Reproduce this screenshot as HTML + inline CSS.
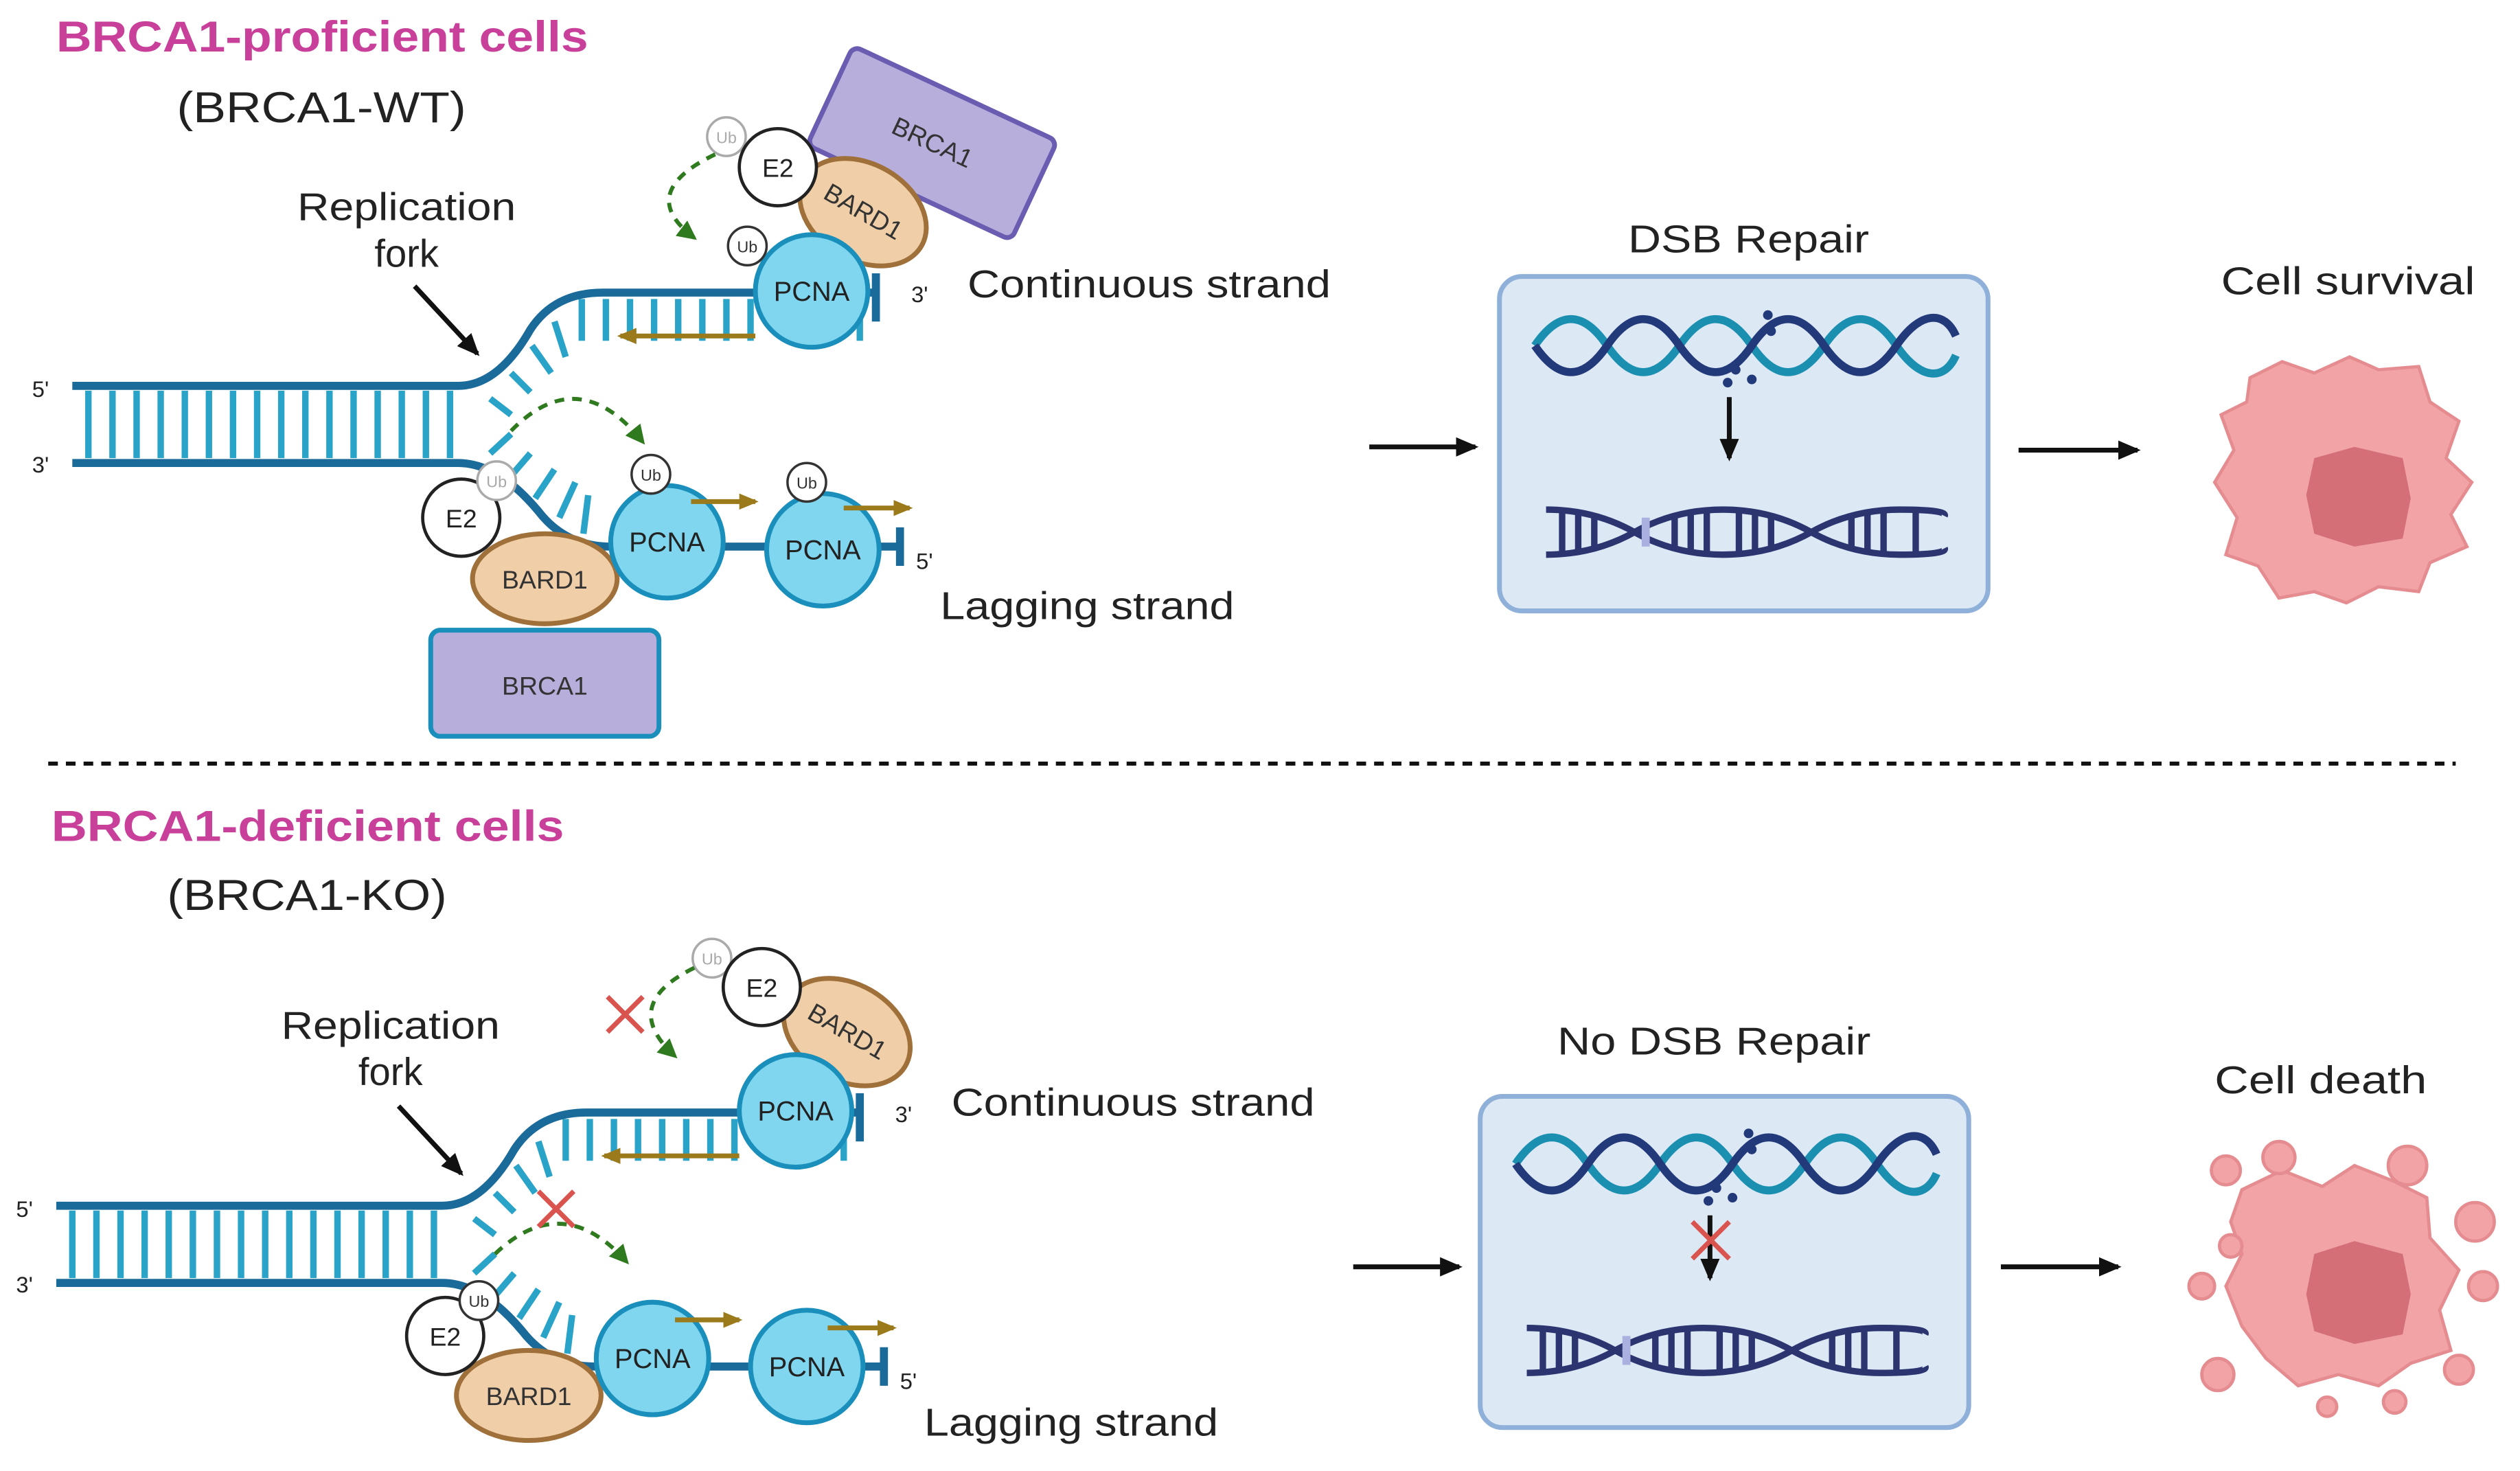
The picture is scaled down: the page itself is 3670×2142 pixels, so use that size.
<!DOCTYPE html>
<html><head><meta charset="utf-8"><style>
html,body{margin:0;padding:0;background:#fff}
svg{display:block}
text{font-family:"Liberation Sans",sans-serif}
</style></head><body>
<svg width="3670" height="2142" viewBox="0 0 1568 915" preserveAspectRatio="none" xmlns="http://www.w3.org/2000/svg">
<defs>
<marker id="ahb" markerWidth="14" markerHeight="12" refX="12" refY="6" orient="auto" markerUnits="userSpaceOnUse"><path d="M0,0 L14,6 L0,12 z" fill="#111"/></marker>
<marker id="ahg" markerWidth="12" markerHeight="12" refX="10" refY="6" orient="auto" markerUnits="userSpaceOnUse"><path d="M0,0 L12,6 L0,12 z" fill="#2f7a1f"/></marker>
<marker id="aho" markerWidth="12" markerHeight="10" refX="10" refY="5" orient="auto" markerUnits="userSpaceOnUse"><path d="M0,0 L12,5 L0,10 z" fill="#9a7a1a"/></marker>
<g id="fork">
 <g stroke="#2aa3c9" stroke-width="4">
  <path d="M55,243V285M70,243V285M85,243V285M100,243V285M115,243V285M130,243V285M145,243V285M160,243V285M175,243V285M190,243V285M205,243V285M220,243V285M235,243V285M250,243V285M265,243V285M280,243V285"/>
  <path d="M305,248L318,258M318,232L330,244M331,215L343,232M345,200L352,222M362,186V212M377,186V212M392,186V212M407,186V212M422,186V212M437,186V212M452,186V212M467,186V212M535,186V212"/>
  <path d="M305,282L318,270M318,296L330,282M333,310L345,292M348,322L358,300M363,332L366,308"/>
 </g>
 <g stroke="#1a6a9a" stroke-width="5" fill="none">
  <path d="M45,240H285Q310,240 330,205Q345,182 375,182H545"/>
  <path d="M45,288H285Q310,288 335,318Q352,340 380,340H560"/>
  <path d="M545,170V200M560,328V352"/>
 </g>
</g>
<g id="pcna"><circle r="35" fill="#7fd6ee" stroke="#1a8fbc" stroke-width="3"/><text y="6" text-anchor="middle" font-size="17" fill="#222">PCNA</text></g>
<g id="ub"><circle r="12" fill="#fff" stroke="#333" stroke-width="1.5"/><text y="4" text-anchor="middle" font-size="10" fill="#333">Ub</text></g>
<g id="ubf"><circle r="12" fill="#fff" stroke="#aaa" stroke-width="1.5"/><text y="4" text-anchor="middle" font-size="10" fill="#aaa">Ub</text></g>
<g id="e2"><circle r="24" fill="#fff" stroke="#222" stroke-width="2"/><text y="6" text-anchor="middle" font-size="16" fill="#222">E2</text></g>
<g id="helix" fill="none" stroke-width="5">
 <path d="M0,0 C15,-22 30,-22 45,0 S75,22 90,0 S120,-22 135,0 S165,22 180,0 S210,-22 225,0 S255,22 262,6" stroke="#1a8fb0"/>
 <path d="M0,0 C15,22 30,22 45,0 S75,-22 90,0 S120,22 135,0 S165,-22 180,0 S210,22 225,0 S255,-22 262,-6" stroke="#233a7a"/>
</g>
<g id="helix2" fill="none" stroke="#2c3570" stroke-width="4">
 <path d="M0,-14 Q30,-14 55,0 T110,14 T165,0 T220,-14 T248,-10"/>
 <path d="M0,14 Q30,14 55,0 T110,-14 T165,0 T220,14 T248,10"/>
 <path d="M10,-13V13M20,-12V12M30,-10V10M80,-10V10M90,-12V12M100,-13V13M120,-13V13M130,-12V12M140,-10V10M190,-10V10M200,-12V12M210,-13V13M230,-13V13"/>
 <path d="M62,-9V9" stroke="#aab0e0" stroke-width="5"/>
</g>
</defs>

<!-- TOP PANEL -->
<text x="35" y="32" font-size="27" font-weight="bold" fill="#c8409a" textLength="331" lengthAdjust="spacingAndGlyphs">BRCA1-proficient cells</text>
<text x="110" y="76" font-size="27" fill="#222" textLength="180" lengthAdjust="spacingAndGlyphs">(BRCA1-WT)</text>
<text x="185" y="137" font-size="24" fill="#222" textLength="136" lengthAdjust="spacingAndGlyphs">Replication</text>
<text x="253" y="166" font-size="24" text-anchor="middle" fill="#222">fork</text>
<line x1="258" y1="178" x2="297" y2="220" stroke="#111" stroke-width="3" marker-end="url(#ahb)"/>
<use href="#fork"/>
<text x="20" y="247" font-size="14" fill="#222">5'</text>
<text x="20" y="294" font-size="14" fill="#222">3'</text>
<text x="567" y="188" font-size="14" fill="#222">3'</text>
<text x="570" y="354" font-size="14" fill="#222">5'</text>
<rect x="510" y="55" width="140" height="68" rx="5" fill="#b8aedb" stroke="#6a5cb0" stroke-width="3" transform="rotate(25 580 89)"/>
<text x="580" y="94" font-size="16" text-anchor="middle" fill="#333" transform="rotate(25 580 89)">BRCA1</text>
<ellipse cx="537" cy="132" rx="42" ry="30" fill="#f0cfa8" stroke="#a0703a" stroke-width="3" transform="rotate(30 537 132)"/>
<text x="537" y="137" font-size="16" text-anchor="middle" fill="#333" transform="rotate(30 537 132)">BARD1</text>
<use href="#ubf" x="452" y="85"/>
<use href="#e2" x="484" y="104"/>
<use href="#pcna" x="505" y="181"/>
<use href="#ub" x="465" y="153"/>
<path d="M445,96 Q395,120 432,148" fill="none" stroke="#2f7a1f" stroke-width="2.5" stroke-dasharray="6,5" marker-end="url(#ahg)"/>
<line x1="470" y1="209" x2="386" y2="209" stroke="#9a7a1a" stroke-width="3" marker-end="url(#aho)"/>
<text x="602" y="185" font-size="24" fill="#222" textLength="226" lengthAdjust="spacingAndGlyphs">Continuous strand</text>
<rect x="268" y="392" width="142" height="66" rx="6" fill="#b8aedb" stroke="#1a8fbc" stroke-width="3"/>
<text x="339" y="432" font-size="16" text-anchor="middle" fill="#333">BRCA1</text>
<ellipse cx="339" cy="360" rx="45" ry="28" fill="#f0cfa8" stroke="#a0703a" stroke-width="3"/>
<text x="339" y="366" font-size="16" text-anchor="middle" fill="#333">BARD1</text>
<use href="#e2" x="287" y="322"/>
<use href="#ubf" x="309" y="299"/>
<use href="#pcna" x="415" y="337"/>
<use href="#pcna" x="512" y="342"/>
<use href="#ub" x="405" y="295"/>
<use href="#ub" x="502" y="300"/>
<line x1="430" y1="312" x2="470" y2="312" stroke="#9a7a1a" stroke-width="3" marker-end="url(#aho)"/>
<line x1="525" y1="316" x2="566" y2="316" stroke="#9a7a1a" stroke-width="3" marker-end="url(#aho)"/>
<path d="M318,268 Q360,225 400,275" fill="none" stroke="#2f7a1f" stroke-width="2.5" stroke-dasharray="6,5" marker-end="url(#ahg)"/>
<text x="585" y="385" font-size="24" fill="#222" textLength="183" lengthAdjust="spacingAndGlyphs">Lagging strand</text>
<line x1="852" y1="278" x2="918" y2="278" stroke="#111" stroke-width="3" marker-end="url(#ahb)"/>
<text x="1013" y="157" font-size="24" fill="#222" textLength="150" lengthAdjust="spacingAndGlyphs">DSB Repair</text>
<rect x="933" y="172" width="304" height="208" rx="14" fill="#dde8f5" stroke="#8fb0d8" stroke-width="3"/>
<use href="#helix" x="955" y="215"/>
<g fill="#233a7a"><circle cx="1080" cy="230" r="3"/><circle cx="1075" cy="238" r="3"/><circle cx="1090" cy="236" r="3"/><circle cx="1100" cy="196" r="3"/><circle cx="1102" cy="206" r="3"/></g>
<line x1="1076" y1="247" x2="1076" y2="285" stroke="#111" stroke-width="3" marker-end="url(#ahb)"/>
<use href="#helix2" x="962" y="331"/>
<line x1="1256" y1="280" x2="1330" y2="280" stroke="#111" stroke-width="3" marker-end="url(#ahb)"/>
<text x="1382" y="183" font-size="24" fill="#222" textLength="158" lengthAdjust="spacingAndGlyphs">Cell survival</text>
<path d="M1400,235 L1420,225 L1440,232 L1462,222 L1480,230 L1505,228 L1512,250 L1530,262 L1522,285 L1538,300 L1525,320 L1535,340 L1512,350 L1505,368 L1480,365 L1460,375 L1440,368 L1418,372 L1405,352 L1385,345 L1392,322 L1378,300 L1390,280 L1382,258 L1398,250 Z" fill="#f2a3a5" stroke="#e58c90" stroke-width="2"/>
<path d="M1440,285 L1465,278 L1495,285 L1500,310 L1495,335 L1465,340 L1440,332 L1435,308 Z" fill="#d46f78"/>

<line x1="30" y1="475" x2="1528" y2="475" stroke="#111" stroke-width="2.5" stroke-dasharray="6,5"/>

<!-- BOTTOM PANEL -->
<text x="32" y="523" font-size="27" font-weight="bold" fill="#c8409a" textLength="319" lengthAdjust="spacingAndGlyphs">BRCA1-deficient cells</text>
<text x="104" y="566" font-size="27" fill="#222" textLength="174" lengthAdjust="spacingAndGlyphs">(BRCA1-KO)</text>
<text x="175" y="646" font-size="24" fill="#222" textLength="136" lengthAdjust="spacingAndGlyphs">Replication</text>
<text x="243" y="675" font-size="24" text-anchor="middle" fill="#222">fork</text>
<line x1="248" y1="688" x2="287" y2="730" stroke="#111" stroke-width="3" marker-end="url(#ahb)"/>
<use href="#fork" x="-10" y="510"/>
<text x="10" y="757" font-size="14" fill="#222">5'</text>
<text x="10" y="804" font-size="14" fill="#222">3'</text>
<text x="557" y="698" font-size="14" fill="#222">3'</text>
<text x="560" y="864" font-size="14" fill="#222">5'</text>
<ellipse cx="527" cy="642" rx="42" ry="30" fill="#f0cfa8" stroke="#a0703a" stroke-width="3" transform="rotate(30 527 642)"/>
<text x="527" y="647" font-size="16" text-anchor="middle" fill="#333" transform="rotate(30 527 642)">BARD1</text>
<use href="#ubf" x="443" y="596"/>
<use href="#e2" x="474" y="614"/>
<use href="#pcna" x="495" y="691"/>
<path d="M432,602 Q385,625 420,657" fill="none" stroke="#2f7a1f" stroke-width="2.5" stroke-dasharray="6,5" marker-end="url(#ahg)"/>
<path d="M378,620L400,642M400,620L378,642" stroke="#d9534f" stroke-width="3"/>
<line x1="460" y1="719" x2="376" y2="719" stroke="#9a7a1a" stroke-width="3" marker-end="url(#aho)"/>
<text x="592" y="694" font-size="24" fill="#222" textLength="226" lengthAdjust="spacingAndGlyphs">Continuous strand</text>
<ellipse cx="329" cy="868" rx="45" ry="28" fill="#f0cfa8" stroke="#a0703a" stroke-width="3"/>
<text x="329" y="874" font-size="16" text-anchor="middle" fill="#333">BARD1</text>
<use href="#e2" x="277" y="831"/>
<use href="#ub" x="298" y="809"/>
<use href="#pcna" x="406" y="845"/>
<use href="#pcna" x="502" y="850"/>
<line x1="420" y1="821" x2="460" y2="821" stroke="#9a7a1a" stroke-width="3" marker-end="url(#aho)"/>
<line x1="515" y1="826" x2="556" y2="826" stroke="#9a7a1a" stroke-width="3" marker-end="url(#aho)"/>
<path d="M308,780 Q350,740 390,785" fill="none" stroke="#2f7a1f" stroke-width="2.5" stroke-dasharray="6,5" marker-end="url(#ahg)"/>
<path d="M335,741L357,763M357,741L335,763" stroke="#d9534f" stroke-width="3"/>
<text x="575" y="893" font-size="24" fill="#222" textLength="183" lengthAdjust="spacingAndGlyphs">Lagging strand</text>
<line x1="842" y1="788" x2="908" y2="788" stroke="#111" stroke-width="3" marker-end="url(#ahb)"/>
<text x="969" y="656" font-size="24" fill="#222" textLength="195" lengthAdjust="spacingAndGlyphs">No DSB Repair</text>
<rect x="921" y="682" width="304" height="206" rx="14" fill="#dde8f5" stroke="#8fb0d8" stroke-width="3"/>
<use href="#helix" x="943" y="724"/>
<g fill="#233a7a"><circle cx="1068" cy="739" r="3"/><circle cx="1063" cy="747" r="3"/><circle cx="1078" cy="745" r="3"/><circle cx="1088" cy="705" r="3"/><circle cx="1090" cy="715" r="3"/></g>
<line x1="1064" y1="756" x2="1064" y2="795" stroke="#111" stroke-width="3" marker-end="url(#ahb)"/>
<path d="M1053,760L1076,783M1076,760L1053,783" stroke="#d9534f" stroke-width="3"/>
<use href="#helix2" x="950" y="840"/>
<line x1="1245" y1="788" x2="1318" y2="788" stroke="#111" stroke-width="3" marker-end="url(#ahb)"/>
<text x="1378" y="680" font-size="24" fill="#222" textLength="132" lengthAdjust="spacingAndGlyphs">Cell death</text>
<g fill="#f2a3a5" stroke="#e58c90" stroke-width="2">
<path d="M1395,740 L1420,728 L1445,738 L1465,725 L1490,735 L1510,745 L1512,770 L1530,790 L1518,815 L1525,840 L1500,848 L1480,862 L1455,855 L1430,862 L1410,845 L1395,825 L1385,800 L1395,780 L1388,760 Z"/>
<circle cx="1385" cy="728" r="9"/><circle cx="1418" cy="720" r="10"/><circle cx="1498" cy="725" r="12"/><circle cx="1540" cy="760" r="12"/><circle cx="1545" cy="800" r="9"/><circle cx="1530" cy="852" r="9"/><circle cx="1490" cy="872" r="7"/><circle cx="1380" cy="855" r="10"/><circle cx="1370" cy="800" r="8"/><circle cx="1388" cy="775" r="7"/><circle cx="1448" cy="875" r="6"/>
</g>
<path d="M1440,780 L1465,772 L1495,780 L1500,805 L1495,830 L1465,836 L1440,828 L1435,805 Z" fill="#d46f78"/>
</svg>
</body></html>
